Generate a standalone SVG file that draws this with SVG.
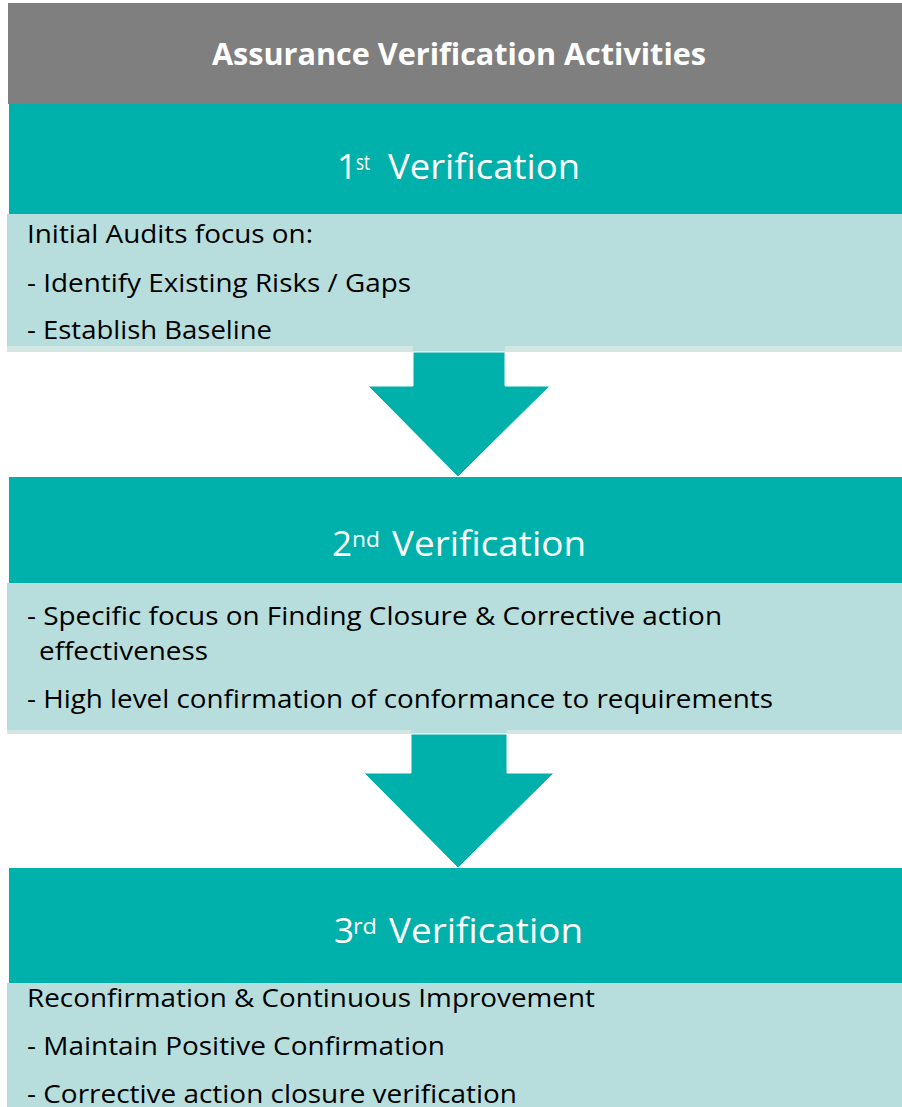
<svg xmlns="http://www.w3.org/2000/svg" width="902" height="1107" viewBox="0 0 902 1107">
<style>
.grey{fill:#7f7f7f}
.teal{fill:#00b0aa}
.light{fill:#b7dedd}
.band{fill:#d2e6e4}
.arrow{fill:#00b0aa;stroke:#ffffff;stroke-width:1}
.title{font-family:"Open Sans","Liberation Sans",sans-serif;font-weight:bold;font-size:30px;fill:#ffffff}
.head{font-family:"Open Sans","Liberation Sans",sans-serif;font-size:35px;fill:#ffffff}
.sup{font-family:"Open Sans","Liberation Sans",sans-serif;font-size:22px;fill:#ffffff}
.body{font-family:"Open Sans","Liberation Sans",sans-serif;font-size:25px;fill:#000000}
</style>
<rect width="902" height="1107" fill="#ffffff"/>
<g id="title">
<rect class="grey" x="8" y="3" width="894" height="101"/>
<text class="title" x="212" y="65" textLength="494" lengthAdjust="spacingAndGlyphs">Assurance Verification Activities</text>
</g>
<g id="verification1">
<rect class="teal" x="9" y="104" width="893" height="110"/>
<text class="head" x="337" y="179">1</text>
<text class="sup" x="356" y="170" textLength="14" lengthAdjust="spacingAndGlyphs">st</text>
<text class="head" x="388" y="179" textLength="192" lengthAdjust="spacingAndGlyphs">Verification</text>
<rect class="light" x="7" y="214" width="895" height="132"/>
<rect class="band" x="7" y="346" width="406" height="6"/>
<rect class="band" x="505" y="346" width="397" height="6"/>
<rect class="light" x="413" y="346" width="92" height="6"/>
<text class="body" x="27" y="243" textLength="286" lengthAdjust="spacingAndGlyphs">Initial Audits focus on:</text>
<text class="body" x="27" y="292" textLength="384" lengthAdjust="spacingAndGlyphs">- Identify Existing Risks / Gaps</text>
<text class="body" x="27" y="339" textLength="245" lengthAdjust="spacingAndGlyphs">- Establish Baseline</text>
</g>
<g id="verification2">
<rect class="teal" x="9" y="477" width="893" height="106"/>
<text class="head" x="332" y="556">2</text>
<text class="sup" x="352" y="547" textLength="28" lengthAdjust="spacingAndGlyphs">nd</text>
<text class="head" x="392" y="556" textLength="194" lengthAdjust="spacingAndGlyphs">Verification</text>
<rect class="light" x="7" y="583" width="895" height="147"/>
<rect class="band" x="7" y="730" width="404" height="4"/>
<rect class="band" x="507" y="730" width="395" height="4"/>
<rect class="light" x="411" y="730" width="96" height="4"/>
<text class="body" x="27" y="625" textLength="695" lengthAdjust="spacingAndGlyphs">- Specific focus on Finding Closure &amp; Corrective action</text>
<text class="body" x="39" y="660" textLength="169" lengthAdjust="spacingAndGlyphs">effectiveness</text>
<text class="body" x="27" y="708" textLength="746" lengthAdjust="spacingAndGlyphs">- High level confirmation of conformance to requirements</text>
</g>
<g id="verification3">
<rect class="teal" x="9" y="868" width="893" height="115"/>
<text class="head" x="334" y="943">3</text>
<text class="sup" x="353" y="934" textLength="24" lengthAdjust="spacingAndGlyphs">rd</text>
<text class="head" x="389" y="943" textLength="194" lengthAdjust="spacingAndGlyphs">Verification</text>
<rect class="light" x="7" y="983" width="895" height="124"/>
<text class="body" x="27" y="1007" textLength="568" lengthAdjust="spacingAndGlyphs">Reconfirmation &amp; Continuous Improvement</text>
<text class="body" x="27" y="1055" textLength="418" lengthAdjust="spacingAndGlyphs">- Maintain Positive Confirmation</text>
<text class="body" x="27" y="1103" textLength="490" lengthAdjust="spacingAndGlyphs">- Corrective action closure verification</text>
</g>
<g id="connectors">
<polygon class="arrow" points="413,352 505,352 505,386 550,386 458,477 368,386 413,386"/>
<polygon class="arrow" points="411,734 507,734 507,773 554,773 458,868 364,773 411,773"/>
</g>
</svg>
